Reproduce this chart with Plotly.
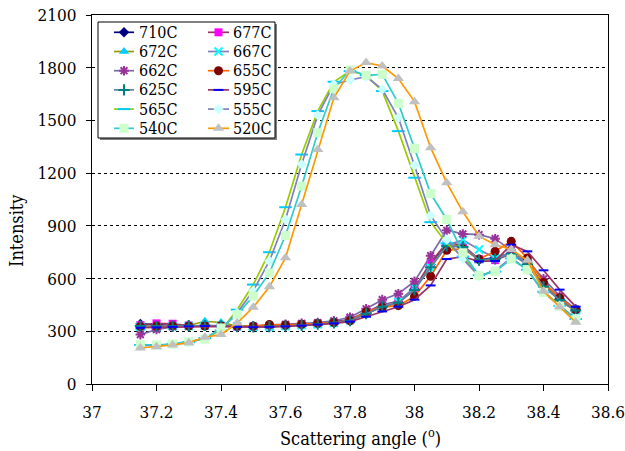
import plotly.graph_objects as go

# ---------------- data ----------------
angle = [37.15, 37.20, 37.25, 37.30, 37.35, 37.40, 37.45, 37.50, 37.55, 37.60,
         37.65, 37.70, 37.75, 37.80, 37.85, 37.90, 37.95, 38.00, 38.05, 38.10,
         38.15, 38.20, 38.25, 38.30, 38.35, 38.40, 38.45, 38.50]

series_names = ["710C", "677C", "672C", "667C", "662C", "655C",
                "625C", "595C", "565C", "555C", "540C", "520C"]

s710 = [342, 335, 332, 330, 332, 330, 328, 327, 330, 333, 338, 345, 352, 365,
        400, 440, 465, 540, 680, 790, 780, 705, 720, 745, 690, 560, 485, 425]
s677 = [335, 345, 343, 333, 330, 328, 326, 326, 328, 332, 338, 342, 350, 368,
        410, 450, 470, 546, 690, 805, 790, 710, 705, 740, 685, 560, 480, 420]
s672 = [320, 330, 325, 333, 357, 350, 330, 322, 325, 330, 336, 342, 350, 360,
        400, 440, 460, 540, 670, 790, 785, 700, 715, 745, 690, 565, 475, 415]
s667 = [325, 322, 328, 330, 332, 330, 328, 325, 326, 330, 335, 340, 348, 362,
        405, 445, 468, 550, 662, 790, 820, 765, 717, 745, 685, 555, 480, 420]
s662 = [281, 310, 325, 330, 333, 332, 330, 330, 335, 340, 345, 350, 360, 380,
        428, 480, 514, 584, 730, 875, 854, 850, 827, 760, 700, 598, 500, 425]
s655 = [327, 330, 332, 330, 330, 330, 328, 329, 338, 336, 340, 345, 350, 360,
        410, 438, 446, 499, 613, 761, 770, 711, 755, 812, 717, 578, 490, 423]
s625 = [330, 328, 330, 332, 333, 330, 326, 325, 327, 330, 334, 340, 348, 360,
        400, 440, 462, 535, 665, 785, 780, 705, 712, 740, 680, 555, 478, 418]
s595 = [320, 322, 325, 328, 330, 328, 325, 323, 325, 328, 332, 338, 345, 355,
        383, 413, 440, 480, 561, 711, 724, 698, 700, 793, 755, 647, 537, 440]
s565 = [222, 220, 225, 238, 262, 305, 423, 566, 750, 1006, 1306, 1553, 1720, 1781,
        1757, 1667, 1439, 1174, 921, 800, 725, 619, 640, 715, 650, 525, 445, 370]
s555 = [218, 220, 224, 236, 262, 312, 405, 530, 700, 936, 1250, 1530, 1705, 1730,
        1749, 1677, 1515, 1244, 959, 822, 712, 613, 645, 718, 648, 525, 445, 372]
s540 = [224, 222, 228, 240, 255, 319, 395, 500, 632, 845, 1126, 1430, 1680, 1787,
        1757, 1762, 1597, 1341, 1084, 936, 747, 617, 641, 711, 651, 521, 442, 366]
s520 = [205, 212, 222, 235, 266, 281, 347, 437, 553, 718, 1022, 1335, 1629, 1781,
        1829, 1810, 1738, 1607, 1345, 1145, 980, 841, 793, 765, 704, 528, 439, 351]

values = [s710, s677, s672, s667, s662, s655, s625, s595, s565, s555, s540, s520]

x_ticks = [37, 37.2, 37.4, 37.6, 37.8, 38, 38.2, 38.4, 38.6]
y_ticks = [0, 300, 600, 900, 1200, 1500, 1800, 2100]

x_title = "Scattering angle (<sup>o</sup>)"
y_title = "Intensity"

# ---------------- styles ----------------
line_colors = ["#000080", "#993366", "#999900", "#8080C0", "#7B68A6", "#FF6600",
               "#6080A0", "#993366", "#99CC00", "#8080C0", "#33CCCC", "#FF9900"]
marker_colors = ["#000080", "#FF00FF", "#00CCFF", "#00FFFF", "#993399", "#800000",
                 "#008080", "#0000FF", "#00CCFF", "#CCFFFF", "#CCFFCC", "#C0C0C0"]
marker_symbols = ["diamond", "square", "triangle-up", "x-thin-open", "asterisk-open",
                  "circle", "cross-thin-open", "line-ew-open", "line-ew-open",
                  "diamond", "square", "triangle-up"]
marker_sizes = [8, 8, 9, 8, 8, 9, 8, 7, 9, 8, 9, 10]

FONT = "DejaVu Serif Condensed, DejaVu Serif"

W, H = 625, 451
ML, MR, MT, MB = 92, 17, 15, 67
PW, PH = W - ML - MR, H - MT - MB
XMIN, XMAX, YMIN, YMAX = 37.0, 38.6, 0.0, 2100.0


def px_x(px):
    return XMIN + (px - ML) / PW * (XMAX - XMIN)


def px_y(py):
    return YMIN + (H - MB - py) / PH * (YMAX - YMIN)


fig = go.Figure()

for i, name in enumerate(series_names):
    sym = marker_symbols[i]
    is_open = sym.endswith("-open")
    fig.add_trace(go.Scatter(
        x=angle, y=values[i], mode="lines+markers", name=name, showlegend=False,
        line=dict(color=line_colors[i], width=1.7),
        marker=dict(symbol=sym, size=marker_sizes[i], color=marker_colors[i],
                    line=dict(color=marker_colors[i], width=2 if is_open else 0)),
    ))

# ---------------- legend (drawn in plot coordinates) ----------------
box = dict(l=98, r=275, t=22, b=138)
fig.add_shape(type="rect", xref="x", yref="y", layer="between",
              x0=px_x(box["l"] + 2), x1=px_x(box["r"] + 2),
              y0=px_y(box["t"] + 2), y1=px_y(box["b"] + 2),
              fillcolor="#808080", line=dict(width=0))
fig.add_shape(type="rect", xref="x", yref="y", layer="between",
              x0=px_x(box["l"]), x1=px_x(box["r"]),
              y0=px_y(box["t"]), y1=px_y(box["b"]),
              fillcolor="white", line=dict(color="black", width=1))

col_line = [(114, 134), (208, 229)]
col_text = [137, 231]
row_y0, row_dy = 32.3, 19.2
for i, name in enumerate(series_names):
    c, r = i % 2, i // 2
    py = row_y0 + r * row_dy
    xa, xb = col_line[c]
    sym = marker_symbols[i]
    is_open = sym.endswith("-open")
    fig.add_trace(go.Scatter(
        x=[px_x(xa), px_x(xb)], y=[px_y(py), px_y(py)], mode="lines",
        showlegend=False, hoverinfo="skip",
        line=dict(color=line_colors[i], width=1.7)))
    fig.add_trace(go.Scatter(
        x=[px_x((xa + xb) / 2)], y=[px_y(py)], mode="markers",
        showlegend=False, hoverinfo="skip",
        marker=dict(symbol=sym, size=marker_sizes[i], color=marker_colors[i],
                    line=dict(color=marker_colors[i], width=2 if is_open else 0))))
    fig.add_annotation(x=px_x(col_text[c]), y=px_y(py), xref="x", yref="y",
                       text=name, showarrow=False, xanchor="left", yanchor="middle",
                       font=dict(family=FONT, size=16, color="black"))

# axis titles (placed like the original: slightly off-centre)
fig.add_annotation(x=(360 - ML) / PW, y=(H - MB - 437) / PH, xref="paper", yref="paper",
                   text=x_title, showarrow=False, xanchor="center", yanchor="middle",
                   font=dict(family=FONT, size=18, color="black"))
fig.add_annotation(x=(16 - ML) / PW, y=(H - MB - 231) / PH, xref="paper", yref="paper",
                   text=y_title, showarrow=False, xanchor="center", yanchor="middle",
                   textangle=-90, font=dict(family=FONT, size=18, color="black"))

axis_common = dict(showline=True, linecolor="black", linewidth=1.3, mirror=True,
                   ticks="outside", tickcolor="black", tickwidth=1,
                   tickfont=dict(family=FONT, size=17, color="black"),
                   zeroline=False, ticklabeloverflow="allow")

fig.update_xaxes(range=[XMIN, XMAX], tickvals=x_ticks,
                 ticktext=[f"{v:g}" for v in x_ticks], ticklen=6,
                 showgrid=False, ticklabelstandoff=6, **axis_common)
fig.update_yaxes(range=[YMIN, YMAX], tickvals=y_ticks,
                 ticktext=[str(v) for v in y_ticks], ticklen=5,
                 showgrid=True, gridcolor="black", griddash="dot", gridwidth=1,
                 ticklabelstandoff=6, **axis_common)

fig.update_layout(width=W, height=H, autosize=False,
                  margin=dict(l=ML, r=MR, t=MT, b=MB, autoexpand=False),
                  paper_bgcolor="white", plot_bgcolor="white",
                  showlegend=False, font=dict(family=FONT, color="black"))

fig.write_html("out.html")
